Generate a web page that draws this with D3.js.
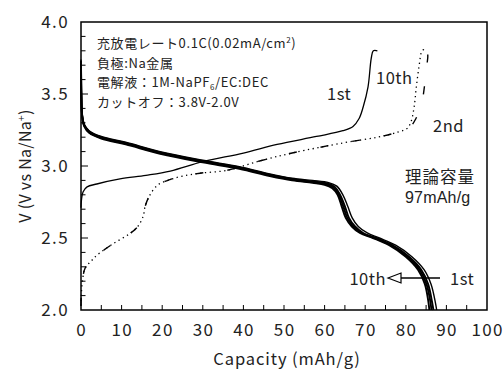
<!DOCTYPE html>
<html>
<head>
<meta charset="utf-8">
<script src="https://cdn.jsdelivr.net/npm/d3@7"></script>
<style>
  body { margin: 0; background: #fff; }
  svg text { font-family: "Noto Sans CJK JP", "Noto Sans", sans-serif; fill: #222; }
</style>
</head>
<body>
<script>
// capacity (mAh/g), voltage (V)
var discharge1st = [[0,3.74],[0.1,3.5],[0.3,3.36],[0.8,3.29],[2,3.245],[5,3.205],[11,3.165],[19.5,3.1],[30,3.04],[39,2.995],[46.5,2.945],[52,2.915],[57,2.9],[61,2.885],[63,2.86],[64.5,2.8],[65.7,2.72],[66.8,2.64],[68.3,2.58],[70.5,2.535],[73.5,2.5],[77.5,2.45],[81.5,2.37],[84.5,2.28],[86.2,2.18],[87.3,2.05],[87.6,2.0]]
var discharge2nd = [[0,3.73],[0.1,3.49],[0.3,3.35],[0.8,3.285],[2,3.24],[5,3.2],[11,3.16],[19.5,3.095],[30,3.035],[39,2.99],[46.5,2.94],[52,2.91],[57,2.893],[60.5,2.88],[62.5,2.855],[63.8,2.8],[65,2.72],[66,2.64],[67.5,2.58],[69.5,2.535],[72.7,2.5],[76.7,2.45],[80.8,2.37],[83.8,2.28],[85.5,2.18],[86.5,2.05],[86.8,2.0]]
var discharge5th = [[0,3.72],[0.1,3.48],[0.3,3.345],[0.8,3.28],[2,3.235],[5,3.195],[11,3.155],[19.5,3.09],[30,3.03],[39,2.985],[46.5,2.935],[52,2.905],[57,2.888],[60.2,2.875],[62.2,2.85],[63.5,2.8],[64.6,2.72],[65.6,2.64],[67.1,2.58],[69.1,2.535],[72.3,2.5],[76.3,2.45],[80.4,2.37],[83.4,2.28],[85.1,2.18],[86.1,2.05],[86.3,2.0]]
var discharge10th = [[0,3.71],[0.1,3.47],[0.3,3.34],[0.8,3.275],[2,3.23],[5,3.19],[11,3.15],[19.5,3.085],[30,3.025],[39,2.98],[46.5,2.93],[52,2.9],[57,2.883],[60,2.87],[61.9,2.845],[63.2,2.8],[64.2,2.72],[65.2,2.64],[66.7,2.58],[68.7,2.535],[71.9,2.5],[75.9,2.45],[80,2.37],[83,2.28],[84.7,2.18],[85.6,2.05],[85.8,2.0]]

var charge1st = [[0,2.71],[0.1,2.76],[0.5,2.82],[1.5,2.855],[3.9,2.875],[9.6,2.91],[16,2.935],[22,2.965],[30,3.03],[40,3.09],[48.3,3.15],[58,3.205],[64.5,3.245],[67,3.275],[68.5,3.33],[69.5,3.41],[70.7,3.55],[71.5,3.75],[72,3.8],[73,3.8]]
var charge2nd = [[0,2.03],[0.1,2.12],[0.4,2.21],[1,2.29],[2.5,2.34],[3.9,2.38],[7.9,2.46],[12,2.53],[14,2.58],[15.3,2.65],[15.8,2.72],[17,2.8],[19,2.87],[21.9,2.905],[25,2.93],[29.3,2.95],[36,2.97],[44,3.035],[52,3.09],[64.5,3.16],[73,3.2],[78,3.235],[81,3.27],[82.5,3.33],[83.8,3.42],[84.8,3.6],[85.4,3.75],[85.6,3.8],[87.5,3.8]]
var charge10th = [[0,2.03],[0.1,2.12],[0.4,2.21],[1,2.29],[2.5,2.34],[3.9,2.38],[7.9,2.46],[12,2.53],[14,2.58],[15.3,2.65],[15.8,2.72],[17,2.8],[19,2.87],[21.9,2.905],[25,2.93],[29.3,2.95],[36,2.97],[44,3.035],[52,3.09],[64.5,3.16],[73,3.2],[78,3.235],[80.3,3.26],[81.2,3.3],[82,3.4],[82.6,3.55],[83.3,3.7],[84,3.8],[84.6,3.81]]

var xTickLabels = [0,10,20,30,40,50,60,70,80,90,100]
var yTickLabels = ["2.0","2.5","3.0","3.5","4.0"]

var notes = ["充放電レート0.1C(0.02mA/cm", "負極:Na金属", "電解液：1M-NaPF", "カットオフ：3.8V-2.0V"]

var width = 504, height = 374
var margin = {top: 22, left: 81, right: 17, bottom: 64}
var w = width - margin.left - margin.right
var h = height - margin.top - margin.bottom

var svg = d3.select("body").append("svg")
    .attr("width", width)
    .attr("height", height)

var x = d3.scaleLinear().domain([0, 100]).range([margin.left, margin.left + w])
var y = d3.scaleLinear().domain([2.0, 4.0]).range([margin.top + h, margin.top])

// ticks (inward)
var g = svg.append("g")
g.selectAll(".xt").data(d3.range(5, 100, 5)).enter().append("line")
    .attr("x1", d => x(d)).attr("x2", d => x(d))
    .attr("y1", y(2.0)).attr("y2", y(2.0) - 5)
    .attr("stroke", "#000").attr("stroke-width", 1)
g.selectAll(".yt").data(d3.range(21, 40)).enter().append("line")
    .attr("x1", x(0)).attr("x2", d => x(0) + (d % 5 == 0 ? 7 : 4.5))
    .attr("y1", d => y(d / 10)).attr("y2", d => y(d / 10))
    .attr("stroke", "#000").attr("stroke-width", 1)

// tick labels
g.selectAll(".xl").data(xTickLabels).enter().append("text")
    .attr("x", d => x(d) + 0.7).attr("y", 336)
    .attr("text-anchor", "middle")
    .style("font-size", "17px").style("letter-spacing", "1.4px")
    .text(d => d)
g.selectAll(".yl").data(yTickLabels).enter().append("text")
    .attr("x", 69).attr("y", d => y(+d) + 6)
    .attr("text-anchor", "end")
    .style("font-size", "17px").style("letter-spacing", "1.4px")
    .text(d => d)

// axis titles
svg.append("text")
    .attr("x", x(50) + 3).attr("y", 365)
    .attr("text-anchor", "middle")
    .style("font-size", "16.5px").style("letter-spacing", "0.9px")
    .text("Capacity (mAh/g)")
var yt = svg.append("text")
    .attr("transform", "translate(31," + y(3.0) + ") rotate(-90)")
    .attr("text-anchor", "middle")
    .style("font-size", "16px").style("letter-spacing", "0.3px")
yt.append("tspan").text("V (V vs Na/Na")
yt.append("tspan").attr("dy", -6).style("font-size", "10px").text("+")
yt.append("tspan").attr("dy", 6).text(")")

// curves
var line = d3.line()
    .x(d => x(d[0]))
    .y(d => y(d[1]))
    .curve(d3.curveCatmullRom.alpha(0.5))

var plot = svg.append("g")
var dis = [discharge1st, discharge2nd, discharge5th, discharge10th]
plot.selectAll(".dis").data(dis).enter().append("path")
    .attr("d", line)
    .attr("fill", "none")
    .attr("stroke", "#000")
    .attr("stroke-width", (d, i) => i == 0 ? 1.4 : 1.9)

plot.append("path").attr("d", line(charge1st))
    .attr("fill", "none").attr("stroke", "#000").attr("stroke-width", 1.3)
plot.append("path").attr("d", line(charge2nd))
    .attr("fill", "none").attr("stroke", "#000").attr("stroke-width", 1.4)
    .attr("stroke-dasharray", "8,24")
plot.append("path").attr("d", line(charge10th))
    .attr("fill", "none").attr("stroke", "#000").attr("stroke-width", 1.3)
    .attr("stroke-dasharray", "1.3,3.5")

// frame
svg.append("rect")
    .attr("x", x(0)).attr("y", y(4.0))
    .attr("width", w).attr("height", h)
    .attr("fill", "none").attr("stroke", "#000").attr("stroke-width", 1.5)

// notes
var nt = svg.append("g").style("font-size", "13px").style("letter-spacing", "0.6px")
nt.selectAll("text").data(notes).enter().append("text")
    .attr("x", 97).attr("y", (d, i) => 48 + i * 19.5)
    .each(function(d, i) {
        var t = d3.select(this)
        t.append("tspan").text(d)
        if (i == 0) {
            t.append("tspan").attr("dy", -5).style("font-size", "8px").text("2")
            t.append("tspan").attr("dy", 5).text(")")
        }
        if (i == 2) {
            t.append("tspan").attr("dy", 3).style("font-size", "8px").text("6")
            t.append("tspan").attr("dy", -3).text("/EC:DEC")
        }
    })

// labels
var lab = svg.append("g").style("font-size", "16.5px").style("letter-spacing", "0.5px")
lab.append("text").attr("x", 327).attr("y", 100).text("1st")
lab.append("text").attr("x", 376).attr("y", 84).text("10th")
lab.append("text").attr("x", 433).attr("y", 132).text("2nd")
lab.append("text").attr("x", 405).attr("y", 183).style("letter-spacing", "1px").text("理論容量")
lab.append("text").attr("x", 405).attr("y", 203)
    .style("font-family", "'Liberation Sans', sans-serif").style("font-size", "16px")
    .style("letter-spacing", "0.2px").text("97mAh/g")
lab.append("text").attr("x", 386).attr("y", 285).attr("text-anchor", "end").text("10th")
lab.append("text").attr("x", 450).attr("y", 285).text("1st")

// arrow 1st -> 10th
svg.append("line").attr("x1", 401).attr("x2", 440).attr("y1", 278).attr("y2", 278)
    .attr("stroke", "#000").attr("stroke-width", 1.3)
svg.append("path").attr("d", "M388,278L401,273L401,283Z")
    .attr("fill", "#fff").attr("stroke", "#000").attr("stroke-width", 1.2)
</script>
</body>
</html>
